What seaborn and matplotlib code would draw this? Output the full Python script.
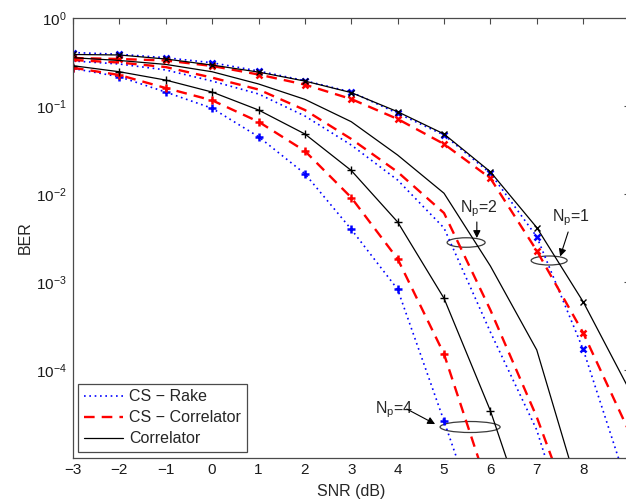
import matplotlib
matplotlib.use("Agg")
import matplotlib.pyplot as plt
import matplotlib.transforms as mtransforms
from matplotlib.patches import Ellipse
from matplotlib.lines import Line2D
from matplotlib.ticker import LogLocator, NullFormatter
import pandas as pd
import seaborn as sns

# ---- BER curves (SNR in dB) ----
snr_np1 = [-3, -2, -1, 0, 1, 2, 3, 4, 5, 6, 7, 8, 9]
rake_np1 = [0.405, 0.387, 0.354, 0.310, 0.250, 0.194, 0.144, 0.0826, 0.0468,
            0.0172, 0.00327, 1.72e-4, 4.1e-6]
cscorr_np1 = [0.351, 0.342, 0.329, 0.285, 0.228, 0.175, 0.120, 0.0712, 0.037,
              0.0151, 0.00227, 2.65e-4, 1.95e-5]
corr_np1 = [0.385, 0.380, 0.342, 0.292, 0.243, 0.192, 0.142, 0.0861, 0.0481,
            0.0179, 0.00416, 5.97e-4, 5.9e-5]

snr_np2 = [-3, -2, -1, 0, 1, 2, 3, 4, 5, 6, 7, 8]
rake_np2 = [0.325, 0.300, 0.257, 0.192, 0.137, 0.0770, 0.0360, 0.0144, 0.00411,
            2.70e-4, 2.08e-5, 4.33e-7]
cscorr_np2 = [0.333, 0.312, 0.277, 0.210, 0.154, 0.0901, 0.0422, 0.0178, 0.00608,
              4.81e-4, 2.92e-5, 1.08e-6]
corr_np2 = [0.354, 0.329, 0.297, 0.245, 0.178, 0.119, 0.0663, 0.0277, 0.0102,
            0.00152, 1.69e-4, 2.85e-6]

snr_np4_cs = [-3, -2, -1, 0, 1, 2, 3, 4, 5, 6]
snr_np4_corr = [-3, -2, -1, 0, 1, 2, 3, 4, 5, 6, 7]
rake_np4 = [0.267, 0.215, 0.144, 0.0942, 0.0448, 0.0170, 0.00397, 8.26e-4,
            2.63e-5, 7.7e-7]
cscorr_np4 = [0.272, 0.225, 0.160, 0.116, 0.0663, 0.0308, 0.00912, 0.00183,
              1.52e-4, 3.84e-6]
corr_np4 = [0.287, 0.245, 0.197, 0.144, 0.0901, 0.0481, 0.0185, 0.00481,
            6.53e-4, 3.45e-5, 9.5e-7]

x_ticks = [-3, -2, -1, 0, 1, 2, 3, 4, 5, 6, 7, 8, 9]
y_ticks = [1e-5, 1e-4, 1e-3, 1e-2, 1e-1, 1e0]
y_tick_labels = ["", r"$10^{-4}$", r"$10^{-3}$", r"$10^{-2}$", r"$10^{-1}$", r"$10^{0}$"]
legend_labels = ["CS \u2212 Rake", "CS \u2212 Correlator", "Correlator"]

# ---- style ----
sns.set_style("white")
plt.rcParams["font.family"] = ["Liberation Sans", "DejaVu Sans"]
plt.rcParams["mathtext.fontset"] = "custom"
plt.rcParams["mathtext.rm"] = "Liberation Sans"
plt.rcParams["mathtext.it"] = "Liberation Sans:italic"
plt.rcParams["mathtext.bf"] = "Liberation Sans:bold"
plt.rcParams["font.size"] = 11

BLUE, RED, BLACK = "#0000ff", "#ff0000", "#000000"
AXC = "#4a4a4a"
styles = {
    "rake": dict(color=BLUE, linestyle=(0, (1, 2.2)), linewidth=1.2),
    "cscorr": dict(color=RED, linestyle=(0, (4.5, 3)), linewidth=1.7),
    "corr": dict(color=BLACK, linestyle="-", linewidth=0.9),
}

series = [
    ("rake", snr_np1, rake_np1, "x"),
    ("cscorr", snr_np1, cscorr_np1, "x"),
    ("corr", snr_np1, corr_np1, "x"),
    ("rake", snr_np2, rake_np2, None),
    ("cscorr", snr_np2, cscorr_np2, None),
    ("corr", snr_np2, corr_np2, None),
    ("rake", snr_np4_cs, rake_np4, "+"),
    ("cscorr", snr_np4_cs, cscorr_np4, "+"),
    ("corr", snr_np4_corr, corr_np4, "+"),
]

fig = plt.figure(figsize=(6.26, 5.03), dpi=100)
ax = fig.add_axes([73 / 626, 1 - 458 / 503, 556.5 / 626, 440 / 503])

for method, snr, ber, marker in series:
    df = pd.DataFrame({"snr": snr, "ber": ber})
    st = styles[method]
    kws = dict(st)
    if marker is not None:
        kws.update(marker=marker, markersize=5.5 if marker == "+" else 5,
                   markeredgecolor=st["color"],
                   markeredgewidth=1.0 if method == "corr" else 1.8)
    sns.lineplot(data=df, x="snr", y="ber", ax=ax, estimator=None, sort=False,
                 errorbar=None, legend=False, **kws)

ax.set_yscale("log")
ax.set_xlim(-3, 9)
ax.set_ylim(1e-5, 1)
ax.set_xticks(x_ticks)
ax.set_yticks(y_ticks)
ax.set_yticklabels(y_tick_labels)
ax.yaxis.set_minor_locator(LogLocator(base=10, subs=[2, 3, 4, 5, 6, 7, 8, 9], numticks=20))
ax.yaxis.set_minor_formatter(NullFormatter())
ax.tick_params(which="both", direction="in", top=True, right=True, color=AXC,
               labelcolor="#1a1a1a", labelsize=11)
ax.tick_params(which="major", length=4.5, width=0.8)
ax.tick_params(which="minor", length=2.5, width=0.6)
ax.tick_params(axis="x", pad=3.5)
ax.tick_params(axis="y", pad=4.5)
for sp in ax.spines.values():
    sp.set_color(AXC)
    sp.set_linewidth(0.9)

ax.set_xlabel("SNR (dB)", fontsize=11.5)
ax.set_ylabel("BER", fontsize=11.5)
ax.xaxis.set_label_coords(0.5, -0.058)
ax.yaxis.set_label_coords(-0.072, 0.5)

# legend
handles = [Line2D([], [], **styles[k]) for k in ("rake", "cscorr", "corr")]
leg = ax.legend(handles, legend_labels, loc="lower left",
                bbox_to_anchor=(5 / 556.5, 6 / 440), borderaxespad=0,
                fancybox=False, frameon=True, framealpha=1, edgecolor=AXC,
                handlelength=2.45, handletextpad=0.4, labelspacing=0.38,
                borderpad=0.35, fontsize=11.5)
leg.get_frame().set_linewidth(0.9)


def ring(xc, yc, w_px, h_px):
    trans = fig.dpi_scale_trans + mtransforms.ScaledTranslation(xc, yc, ax.transData)
    e = Ellipse((0, 0), w_px / 100, h_px / 100, transform=trans, fill=False,
                edgecolor="#3a3a3a", linewidth=0.9)
    ax.add_artist(e)


arrow = dict(arrowstyle="-|>", color="black", lw=0.8, mutation_scale=11,
             shrinkA=0, shrinkB=0)

# N_p = 2
ring(5.477, 2.81e-3, 38, 9.5)
ax.text(5.348, 6.25e-3, r"$\mathregular{N_p}$=2", fontsize=11.5, ha="left", va="baseline")
ax.annotate("", xy=(5.708, 3.16e-3), xytext=(5.708, 4.81e-3), arrowprops=arrow)

# N_p = 1
ring(7.267, 1.755e-3, 36, 9)
ax.text(7.326, 4.93e-3, r"$\mathregular{N_p}$=1", fontsize=11.5, ha="left", va="baseline")
ax.annotate("", xy=(7.505, 1.95e-3), xytext=(7.677, 3.70e-3), arrowprops=arrow)

# N_p = 4
ring(5.563, 2.25e-5, 60, 11)
ax.text(3.514, 3.25e-5, r"$\mathregular{N_p}$=4", fontsize=11.5, ha="left", va="baseline")
ax.annotate("", xy=(4.808, 2.43e-5), xytext=(4.198, 3.6e-5), arrowprops=arrow)

fig.savefig("out.png", dpi=100)
